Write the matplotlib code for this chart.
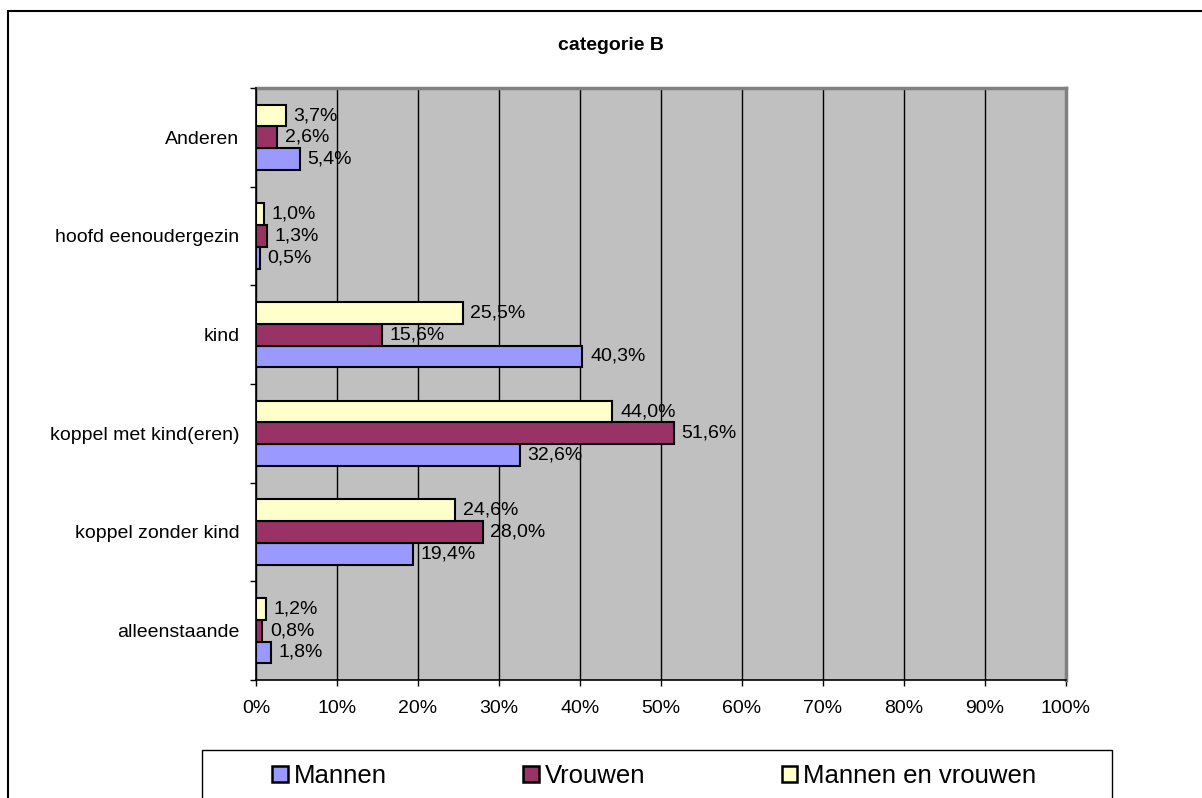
import matplotlib
matplotlib.use('Agg')
import matplotlib.pyplot as plt
from matplotlib.patches import Rectangle, Patch
import numpy as np

plt.rcParams['font.family'] = ['Liberation Sans', 'DejaVu Sans']

# data (bottom to top as drawn)
categories = ['alleenstaande', 'koppel zonder kind', 'koppel met kind(eren)',
              'kind', 'hoofd eenoudergezin', 'Anderen']
mannen = [1.8, 19.4, 32.6, 40.3, 0.5, 5.4]
vrouwen = [0.8, 28.0, 51.6, 15.6, 1.3, 2.6]
samen = [1.2, 24.6, 44.0, 25.5, 1.0, 3.7]
series_names = ['Mannen', 'Vrouwen', 'Mannen en vrouwen']
colors = ['#9999FF', '#993366', '#FFFFCC']
title = 'categorie B'

W, H = 1202, 798
fig = plt.figure(figsize=(W / 100, H / 100), dpi=100)

# outer chart border (runs off the right and bottom edge)
fig.patches.append(Rectangle((8 / W, -0.1), 1.2, 1 - 11 / H + 0.1,
                             transform=fig.transFigure, fill=False,
                             edgecolor='black', lw=1.5))

ax = fig.add_axes([256 / W, 1 - 680 / H, (1066 - 256) / W, (680 - 88) / H])
ax.set_facecolor('#C0C0C0')

y = np.arange(len(categories))
h = 0.22
for offs, vals, col in zip([-h, 0, h], [mannen, vrouwen, samen], colors):
    bars = ax.barh(y + offs, vals, height=h, color=col, edgecolor='black', lw=1.5, zorder=3)
    for b, v in zip(bars, vals):
        ax.annotate(f"{v:.1f}".replace('.', ',') + '%',
                    (b.get_width(), b.get_y() + b.get_height() / 2),
                    xytext=(5.5, 0), textcoords='offset points',
                    va='center', ha='left', fontsize=14, zorder=4)

ax.set_xlim(0, 100)
ax.set_ylim(-0.5, len(categories) - 0.5)
ax.set_xticks(np.arange(0, 101, 10))
ax.set_xticklabels([f"{t}%" for t in range(0, 101, 10)], fontsize=14)
ax.set_yticks(np.arange(-0.5, len(categories), 1))
ax.set_yticklabels([])
ax.set_yticks(y, minor=True)
ax.set_yticklabels(categories, minor=True, fontsize=14)
ax.tick_params(axis='y', which='minor', length=0, pad=12)
ax.tick_params(axis='both', which='major', length=4.5, width=1, direction='out')
ax.tick_params(axis='x', pad=10)
ax.xaxis.grid(True, color='black', lw=1, zorder=1)
ax.set_axisbelow(True)

for s in ['top', 'right']:
    ax.spines[s].set_color('#808080')
    ax.spines[s].set_linewidth(2.5)
for s in ['left', 'bottom']:
    ax.spines[s].set_color('black')
    ax.spines[s].set_linewidth(1.2)
    ax.spines[s].set_zorder(5)

fig.text(611 / W, 1 - 45 / H, title, ha='center', va='center',
         fontsize=14, fontweight='bold')

# legend box (runs off the bottom edge)
fig.patches.append(Rectangle((202 / W, -0.1), (1112 - 202) / W, 1 - 750 / H + 0.1,
                             transform=fig.transFigure, fill=False,
                             edgecolor='black', lw=1))
handles = [Patch(facecolor=c, edgecolor='black', lw=1.8) for c in colors]
fig.legend(handles, series_names, ncol=3, frameon=False, fontsize=18.5,
           loc='center left', bbox_to_anchor=(272 / W, 1 - 776 / H),
           handlelength=0.62, handleheight=0.62, handletextpad=0.23,
           columnspacing=5.3, borderaxespad=0, borderpad=0)

fig.savefig('out.png', dpi=100)
